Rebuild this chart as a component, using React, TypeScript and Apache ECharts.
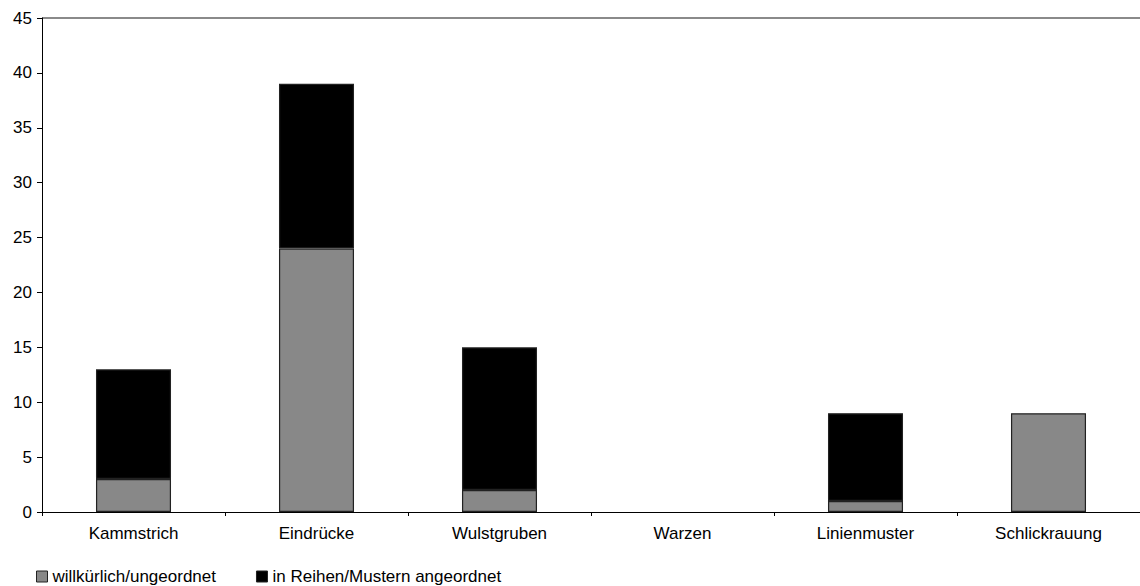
import React, { useEffect, useRef } from "react";
import * as echarts from "echarts";

const categories = ["Kammstrich", "Eindrücke", "Wulstgruben", "Warzen", "Linienmuster", "Schlickrauung"];
const willkuerlich = [3, 24, 2, 0, 1, 9];
const inReihen = [10, 15, 13, 0, 8, 0];
const seriesNames = ["willkürlich/ungeordnet", "in Reihen/Mustern angeordnet"];

export default function App() {
  const ref = useRef<HTMLDivElement>(null);
  useEffect(() => {
    const chart = echarts.init(ref.current!, null, { renderer: "svg" });
    const font = "Liberation Sans, Arial, sans-serif";
    const splitColors = Array.from({ length: 10 }, (_, i) => (i === 9 ? "#8a8a8a" : "rgba(0,0,0,0)"));
    const clean = (arr: number[]) => arr.map((v) => (v === 0 ? null : v));
    chart.setOption({
      animation: false,
      textStyle: { fontFamily: font },
      grid: { left: 42, right: 0, top: 18, bottom: 74, containLabel: false },
      legend: {
        left: 36,
        top: 568,
        padding: 0,
        itemWidth: 11,
        itemHeight: 11,
        itemGap: 40,
        icon: "rect",
        textStyle: { fontSize: 17, color: "#000", fontFamily: font },
        data: seriesNames.map((n) => ({ name: n, itemStyle: { borderColor: "#222", borderWidth: 1 } })),
      },
      xAxis: {
        type: "category",
        data: categories,
        axisLine: { lineStyle: { color: "#000", width: 1 } },
        axisTick: { show: true, inside: false, length: 4, lineStyle: { color: "#000" } },
        axisLabel: { fontSize: 17, color: "#000", margin: 13, fontFamily: font },
      },
      yAxis: {
        type: "value",
        min: 0,
        max: 45,
        interval: 5,
        axisLine: { show: true, lineStyle: { color: "#000", width: 1 } },
        axisTick: { show: true, length: 5, lineStyle: { color: "#000" } },
        axisLabel: { fontSize: 17, color: "#000", margin: 10, fontFamily: font },
        splitLine: { show: true, lineStyle: { color: splitColors, width: 2 } },
      },
      series: [
        {
          name: seriesNames[0],
          type: "bar",
          stack: "total",
          data: clean(willkuerlich),
          barWidth: "41%",
          itemStyle: { color: "#888888", borderColor: "#222", borderWidth: 1.2 },
        },
        {
          name: seriesNames[1],
          type: "bar",
          stack: "total",
          data: clean(inReihen),
          barWidth: "41%",
          itemStyle: { color: "#000000", borderColor: "#222", borderWidth: 1.2 },
        },
      ],
    });
    return () => chart.dispose();
  }, []);
  return (
    <div
      ref={ref}
      style={{ position: "absolute", left: 0, top: 0, width: 1140, height: 586, background: "#fff" }}
    />
  );
}
